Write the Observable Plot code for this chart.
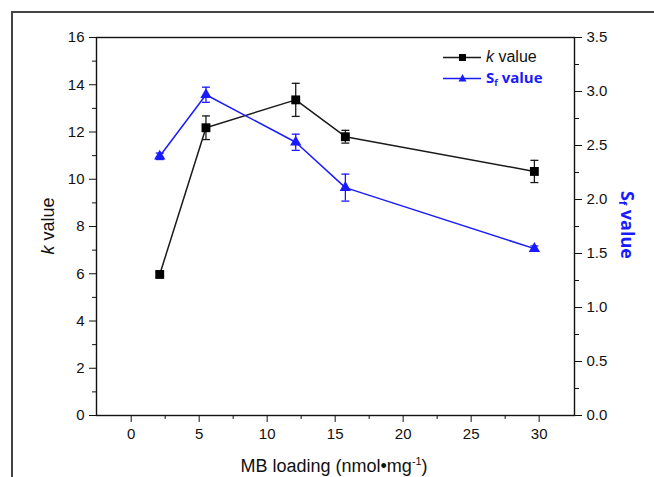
<!DOCTYPE html>
<html>
<head>
<meta charset="utf-8">
<script src="https://cdn.jsdelivr.net/npm/d3@7"></script>
<script src="https://cdn.jsdelivr.net/npm/@observablehq/plot@0.6"></script>
<style>
  html, body { margin: 0; padding: 0; background: #fff; }
  #wrap { position: relative; width: 654px; height: 477px; overflow: hidden; font-family: "Liberation Sans", Arial, sans-serif; }
  #border { position: absolute; left: 11px; top: 11px; width: 800px; height: 600px; border-left: 2px solid #444; border-top: 2px solid #444; }
  #chart { position: absolute; left: 0; top: 0; }
  .title { position: absolute; white-space: nowrap; }
  #xtitle { left: 334px; top: 466px; transform: translate(-50%, -50%); font-size: 18px; color: #111; }
  #ytitle { left: 48px; top: 226px; transform: translate(-50%, -50%) rotate(-90deg); font-size: 18px; color: #111; }
  #y2title { left: 628px; top: 225px; transform: translate(-50%, -50%) rotate(90deg); font-size: 18px; font-weight: bold; color: #1a1aff; font-family: "Open Sans", sans-serif; }
  .lsvg { position: absolute; left: 440px; }
  .ltext { position: absolute; left: 486px; white-space: nowrap; transform: translateY(-50%); }
  sub { font-size: 0.6em; vertical-align: -0.25em; }
  sup { font-size: 0.6em; vertical-align: 0.6em; }
</style>
</head>
<body>
<div id="wrap">
  <div id="border"></div>
  <div id="chart"></div>
  <div class="title" id="xtitle">MB loading (nmol•mg<sup>-1</sup>)</div>
  <div class="title" id="ytitle"><i>k</i> value</div>
  <div class="title" id="y2title">S<sub>f</sub> value</div>
  <div id="legend"></div>
</div>
<script>
// ---- data ----
const loading = [2.1, 5.5, 12.1, 15.75, 29.65];
const kValue = [5.97, 12.18, 13.36, 11.8, 10.33];
const kErr = [0.12, 0.5, 0.7, 0.27, 0.47];
const sfValue = [2.40, 2.97, 2.53, 2.11, 1.545];
const sfErr = [0.03, 0.07, 0.075, 0.125, 0.025];
const xTicks = [0, 5, 10, 15, 20, 25, 30];
const xMinor = [2.5, 7.5, 12.5, 17.5, 22.5, 27.5];
const kTicks = [0, 2, 4, 6, 8, 10, 12, 14, 16];
const kMinor = [1, 3, 5, 7, 9, 11, 13, 15];
const sfTicks = [0, 0.5, 1.0, 1.5, 2.0, 2.5, 3.0, 3.5];
const sfMinor = [0.25, 0.75, 1.25, 1.75, 2.25, 2.75, 3.25];

const kMax = 16, sfMax = 3.5;
const f = kMax / sfMax; // map Sf onto the k scale
const BLACK = "#1a1a1a", BLUE = "#1a1aff";

const kData = loading.map((x, i) => ({x, y: kValue[i], lo: kValue[i] - kErr[i], hi: kValue[i] + kErr[i]}));
const sfData = loading.map((x, i) => ({x, y: sfValue[i] * f, lo: (sfValue[i] - sfErr[i]) * f, hi: (sfValue[i] + sfErr[i]) * f}));

const capSymbol = {
  draw(ctx, size) {
    const w = Math.sqrt(size / Math.PI);
    ctx.moveTo(-w, 0);
    ctx.lineTo(w, 0);
  }
};

function errMarks(data, color) {
  return [
    Plot.ruleX(data, {x: "x", y1: "lo", y2: "hi", stroke: color, strokeWidth: 1.3}),
    Plot.dot(data, {x: "x", y: "lo", symbol: capSymbol, r: 4, stroke: color, strokeWidth: 1.3, fill: "none"}),
    Plot.dot(data, {x: "x", y: "hi", symbol: capSymbol, r: 4, stroke: color, strokeWidth: 1.3, fill: "none"})
  ];
}

const chart = Plot.plot({
  width: 654,
  height: 477,
  marginLeft: 96,
  marginRight: 80,
  marginTop: 37,
  marginBottom: 62,
  style: {fontFamily: "'Liberation Sans', Arial, sans-serif", fontSize: "15px", color: "#111", background: "transparent"},
  x: {domain: [-2.55, 32.6], label: null},
  y: {domain: [0, kMax], label: null},
  marks: [
    Plot.axisX(xTicks, {tickSize: 7, tickPadding: 6, label: null}),
    Plot.axisX(xMinor, {tickSize: 4, tickFormat: () => "", label: null}),
    Plot.axisY(kTicks, {anchor: "left", tickSize: 7, tickPadding: 5, label: null}),
    Plot.axisY(kMinor, {anchor: "left", tickSize: 4, tickFormat: () => "", label: null}),
    Plot.axisY(sfTicks.map(v => v * f), {anchor: "right", tickSize: 7, tickPadding: 5, tickFormat: d => (d / f).toFixed(1), label: null}),
    Plot.axisY(sfMinor.map(v => v * f), {anchor: "right", tickSize: 4, tickFormat: () => "", label: null}),
    Plot.frame({stroke: "#111", strokeWidth: 1.4}),
    Plot.line(kData, {x: "x", y: "y", stroke: BLACK, strokeWidth: 1.5}),
    ...errMarks(kData, BLACK),
    Plot.dot(kData, {x: "x", y: "y", symbol: "square", r: 5, fill: "#000"}),
    Plot.line(sfData, {x: "x", y: "y", stroke: BLUE, strokeWidth: 1.5}),
    ...errMarks(sfData, BLUE),
    Plot.dot(sfData, {x: "x", y: "y", symbol: "triangle", r: 4.2, fill: BLUE})
  ]
});
document.getElementById("chart").appendChild(chart);

// legend
const legend = document.getElementById("legend");
const entries = [
  {y: 57, color: BLACK, fill: "#000", sym: "square", html: '<span style="font-size:16px;color:#111"><i>k</i> value</span>'},
  {y: 78, color: BLUE, fill: BLUE, sym: "triangle", html: '<span style="font-size:15px;font-weight:bold;color:' + BLUE + ';font-family:\'Open Sans\',sans-serif">S<sub>f</sub> value</span>'}
];
for (const e of entries) {
  const sym = e.sym === "square"
    ? '<rect x="19" y="7" width="7" height="7" fill="' + e.fill + '"/>'
    : '<path d="M22.5,6 L26.5,13.5 L18.5,13.5 Z" fill="' + e.fill + '"/>';
  const s = document.createElement("div");
  s.className = "lsvg";
  s.style.top = (e.y - 10.5) + "px";
  s.innerHTML = '<svg width="44" height="21" style="display:block"><line x1="3" x2="41" y1="10.5" y2="10.5" stroke="' + e.color + '" stroke-width="1.5"/>' + sym + '</svg>';
  legend.appendChild(s);
  const t = document.createElement("div");
  t.className = "ltext";
  t.style.top = e.y + "px";
  t.innerHTML = e.html;
  legend.appendChild(t);
}
</script>
</body>
</html>
